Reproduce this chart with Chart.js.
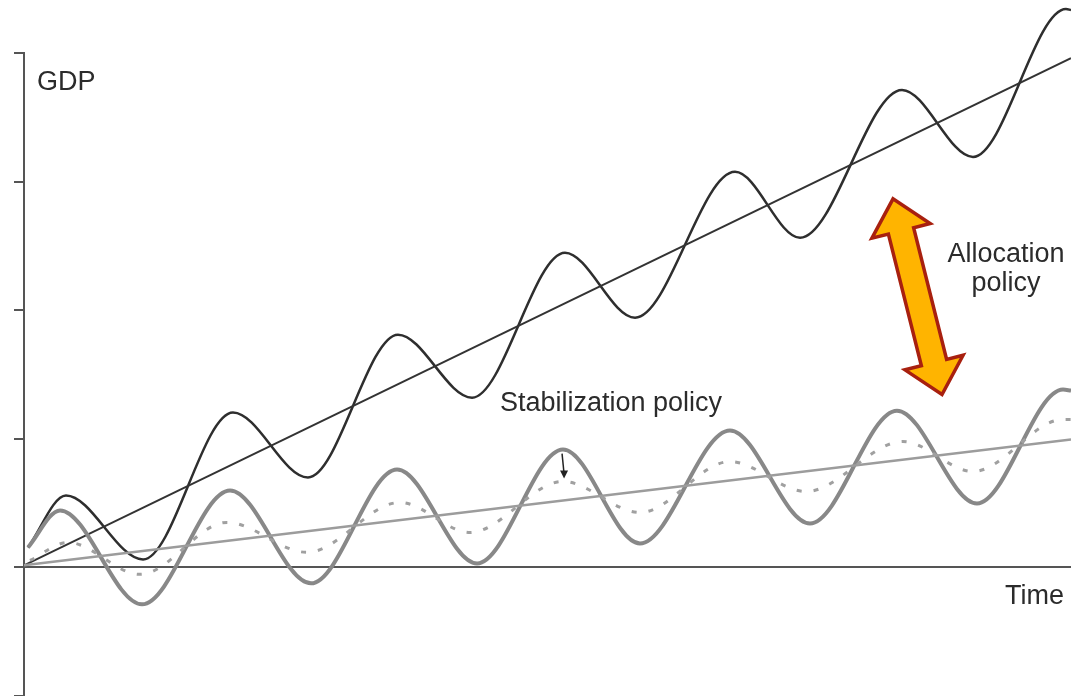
<!DOCTYPE html>
<html>
<head>
<meta charset="utf-8">
<title>GDP: stabilization and allocation policy</title>
<script src="https://cdn.jsdelivr.net/npm/chart.js@4.4.0/dist/chart.umd.min.js"></script>
<style>
  html, body { margin: 0; padding: 0; background: #fff; }
  #wrap { width: 1071px; height: 696px; position: relative; }
</style>
</head>
<body>
<div id="wrap"><canvas id="gdpChart"></canvas></div>
<script>
// values (time 0..100, GDP in axis units)
var trendX = [0, 100];
var fastTrendY = [0.016, 3.96];   // steep black trend
var slowTrendY = [0.016, 0.995];  // shallow grey trend

var fastCycleX = [0.38, 4.01, 11.37, 19.96, 27.12, 35.72, 42.79, 51.67, 58.36, 67.91, 74.12, 83.86, 90.64, 99.52, 100];
var fastCycleY = [0.155, 0.559, 0.062, 1.204, 0.699, 1.810, 1.320, 2.447, 1.942, 3.076, 2.563, 3.713, 3.192, 4.342, 4.334];

var slowCycleX = [0.38, 3.44, 11.27, 19.68, 27.41, 35.63, 43.27, 51.48, 58.83, 67.43, 75.07, 83.38, 91.02, 99.24, 100];
var slowCycleY = [0.155, 0.443, -0.287, 0.598, -0.124, 0.761, 0.031, 0.917, 0.186, 1.064, 0.342, 1.219, 0.497, 1.383, 1.375];

var dampedX = [0.57, 4.20, 11.08, 19.39, 27.03, 35.91, 42.60, 51.48, 58.83, 67.43, 74.69, 83.95, 90.64, 99.24, 100];
var dampedY = [0.054, 0.194, -0.054, 0.350, 0.117, 0.505, 0.272, 0.668, 0.427, 0.823, 0.590, 0.979, 0.746, 1.150, 1.150];

var yTicks = [-1, 0, 1, 2, 3, 4];

// annotation anchors, in data units
var allocArrow = { x1: 83.0, y1: 2.866, x2: 87.68, y2: 1.344 };
var stabArrow = { x1: 51.39, y1: 0.885, x2: 51.58, y2: 0.691 };

function pts(xs, ys) {
    return xs.map(function (x, i) { return { x: x, y: ys[i] }; });
}

var textColor = '#2b2b2b';
var axisColor = '#555555';

var annotations = {
    id: 'annotations',
    afterDatasetsDraw: function (chart) {
        var ctx = chart.ctx;
        var xs = chart.scales.x, ys = chart.scales.y;
        var left = chart.chartArea.left;
        var zeroY = ys.getPixelForValue(0);

        ctx.save();
        // big double-headed arrow
        var ax1 = xs.getPixelForValue(allocArrow.x1), ay1 = ys.getPixelForValue(allocArrow.y1);
        var ax2 = xs.getPixelForValue(allocArrow.x2), ay2 = ys.getPixelForValue(allocArrow.y2);
        var dx = ax2 - ax1, dy = ay2 - ay1, len = Math.sqrt(dx * dx + dy * dy);
        var ux = dx / len, uy = dy / len, nx = -uy, ny = ux;
        var headL = 33, headW = 30, shaftW = 13;
        function p(t, s) { return [ax1 + ux * t + nx * s, ay1 + uy * t + ny * s]; }
        var poly = [
            p(0, 0), p(headL, headW), p(headL, shaftW), p(len - headL, shaftW),
            p(len - headL, headW), p(len, 0), p(len - headL, -headW), p(len - headL, -shaftW),
            p(headL, -shaftW), p(headL, -headW)
        ];
        ctx.beginPath();
        poly.forEach(function (q, i) { if (i === 0) ctx.moveTo(q[0], q[1]); else ctx.lineTo(q[0], q[1]); });
        ctx.closePath();
        ctx.fillStyle = '#ffb400';
        ctx.fill();
        ctx.lineJoin = 'miter';
        ctx.lineWidth = 3.5;
        ctx.strokeStyle = '#a8200f';
        ctx.stroke();

        // small arrow from the cycle peak down to the damped cycle
        var sx1 = xs.getPixelForValue(stabArrow.x1), sy1 = ys.getPixelForValue(stabArrow.y1);
        var sx2 = xs.getPixelForValue(stabArrow.x2), sy2 = ys.getPixelForValue(stabArrow.y2);
        ctx.strokeStyle = '#222';
        ctx.fillStyle = '#222';
        ctx.lineWidth = 1.5;
        ctx.beginPath();
        ctx.moveTo(sx1, sy1);
        ctx.lineTo(sx2, sy2 - 5);
        ctx.stroke();
        ctx.beginPath();
        ctx.moveTo(sx2, sy2);
        ctx.lineTo(sx2 - 4, sy2 - 8);
        ctx.lineTo(sx2 + 4, sy2 - 8);
        ctx.closePath();
        ctx.fill();

        // texts
        ctx.fillStyle = textColor;
        ctx.font = '27px "Liberation Sans", Arial, sans-serif';
        ctx.textBaseline = 'alphabetic';
        ctx.textAlign = 'left';
        ctx.fillText('GDP', left + 13, 90);
        ctx.fillText('Stabilization policy', 500, 411);
        ctx.fillText('Time', 1005, zeroY + 37);
        ctx.textAlign = 'center';
        ctx.fillText('Allocation', 1006, 262);
        ctx.fillText('policy', 1006, 291);
        ctx.restore();
    }
};

new Chart('gdpChart', {
    type: 'line',
    data: {
        datasets: [{
            label: 'Smoothed cycle',
            data: pts(dampedX, dampedY),
            borderColor: '#a0a0a0',
            borderWidth: 3,
            borderDash: [5, 12],
            cubicInterpolationMode: 'monotone',
            pointRadius: 0,
            clip: false
        }, {
            label: 'Slow trend',
            data: pts(trendX, slowTrendY),
            borderColor: '#9c9c9c',
            borderWidth: 2.5,
            tension: 0,
            pointRadius: 0,
            clip: false
        }, {
            label: 'Slow cycle',
            data: pts(slowCycleX, slowCycleY),
            borderColor: '#888888',
            borderWidth: 4,
            cubicInterpolationMode: 'monotone',
            pointRadius: 0,
            clip: false
        }, {
            label: 'Fast trend',
            data: pts(trendX, fastTrendY),
            borderColor: '#333333',
            borderWidth: 2,
            tension: 0,
            pointRadius: 0,
            clip: false
        }, {
            label: 'Fast cycle',
            data: pts(fastCycleX, fastCycleY),
            borderColor: '#2e2e2e',
            borderWidth: 2.5,
            cubicInterpolationMode: 'monotone',
            pointRadius: 0,
            clip: false
        }]
    },
    options: {
        responsive: true,
        maintainAspectRatio: false,
        animation: false,
        layout: {
            padding: { left: 14, top: 53, right: 0, bottom: 0 }
        },
        plugins: {
            legend: { display: false },
            tooltip: { enabled: false }
        },
        scales: {
            x: {
                type: 'linear',
                min: 0,
                max: 100,
                display: false
            },
            y: {
                min: yTicks[0],
                max: yTicks[yTicks.length - 1],
                afterBuildTicks: function (axis) {
                    axis.ticks = yTicks.map(function (v) { return { value: v }; });
                },
                ticks: { display: false },
                border: { display: true, color: axisColor, width: 2 },
                grid: {
                    color: function (c) { return c.tick && c.tick.value === 0 ? axisColor : 'rgba(0,0,0,0)'; },
                    tickColor: axisColor,
                    lineWidth: 2,
                    tickWidth: 2,
                    tickLength: 10
                }
            }
        }
    },
    plugins: [annotations]
});
</script>
</body>
</html>
